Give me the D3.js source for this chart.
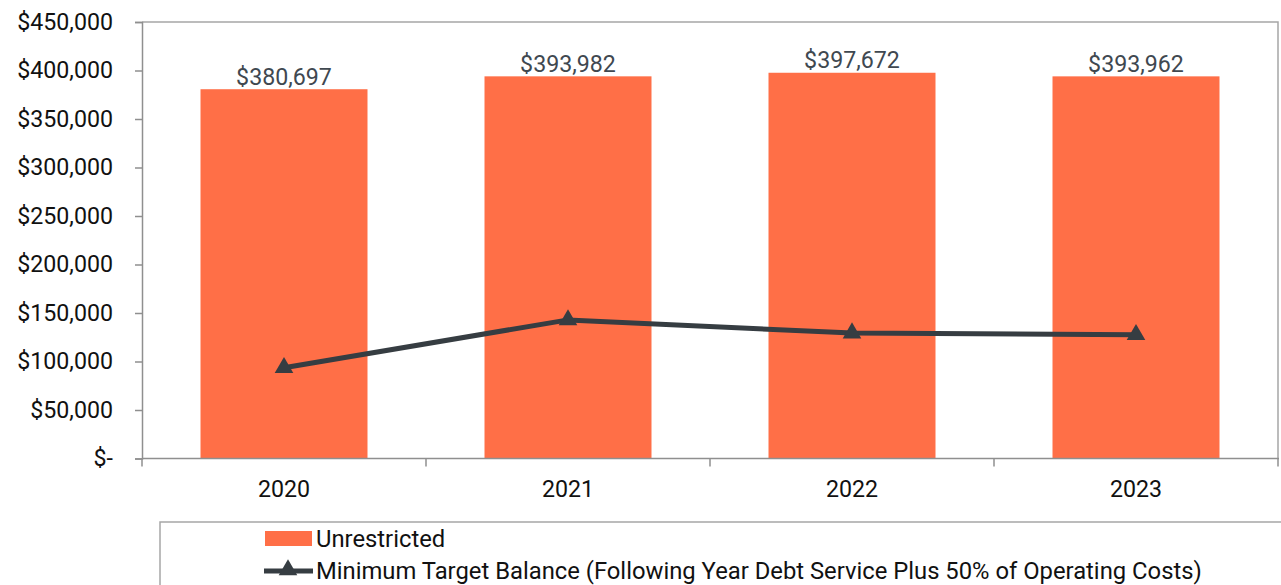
<!DOCTYPE html>
<html><head><meta charset="utf-8">
<script src="https://cdn.jsdelivr.net/npm/d3@7"></script>
<style>body{margin:0;background:#fff;}svg{display:block;font-family:Roboto,"Noto Sans",sans-serif;}</style>
</head><body><svg id="c" width="1281" height="585"></svg>
<script>
const categories = ["2020","2021","2022","2023"];
const unrestricted = [380697, 393982, 397672, 393962];
const minTarget = [93600, 142900, 129300, 127600];
const yTicks = [0,50000,100000,150000,200000,250000,300000,350000,400000,450000];
const seriesNames = ["Unrestricted","Minimum Target Balance (Following Year Debt Service Plus 50% of Operating Costs)"];

const svg = d3.select("#c");
const L=142, R=1278, T=22, B=458.5;
const x = d3.scaleBand().domain(categories).range([L,R]).paddingInner(0.412).paddingOuter(0.206);
const xc = d3.scalePoint().domain(categories).range([L,R]).padding(0.5);
const y = d3.scaleLinear().domain([0,450000]).range([B,T]);
const orange="#FF6F47", dark="#363D42", axisCol="#8f8f8f";
const fmt = v => v===0 ? "$-" : "$"+d3.format(",")(v);
const FS = 23.2;

svg.append("path").attr("d",`M${L},${T}H${R}V${B}`).attr("fill","none").attr("stroke","#a6a6a6").attr("stroke-width",1.5);

svg.selectAll("rect.bar").data(unrestricted).join("rect").attr("class","bar")
  .attr("x",(d,i)=>x(categories[i])).attr("width",x.bandwidth())
  .attr("y",d=>y(d)).attr("height",d=>B-y(d)).attr("fill",orange);

svg.selectAll("text.lbl").data(unrestricted).join("text").attr("class","lbl")
  .attr("x",(d,i)=>x(categories[i])+x.bandwidth()/2).attr("y",d=>y(d)-4.5)
  .attr("text-anchor","middle").attr("font-size",FS).attr("fill","#404850").text(d=>fmt(d));

const ya = svg.append("g").attr("transform",`translate(${L},0)`)
  .call(d3.axisLeft(y).tickValues(yTicks).tickFormat(fmt).tickSize(7).tickPadding(22));
ya.select(".domain").attr("stroke",axisCol).attr("stroke-width",1.5);
ya.selectAll(".tick line").attr("stroke",axisCol).attr("stroke-width",1.5);
ya.selectAll("text").attr("font-size",FS).attr("fill","#111").attr("font-family","Roboto");

const xa = svg.append("g").attr("transform",`translate(0,${B})`)
  .call(d3.axisBottom(x).tickSize(0).tickPadding(22));
xa.select(".domain").attr("d",`M${L},0H${R+1}`).attr("stroke",axisCol).attr("stroke-width",1.5);
xa.selectAll("text").attr("font-size",FS).attr("fill","#111").attr("font-family","Roboto");
const sep = categories.map((c,i)=>L+(R-L)*i/categories.length).concat([R]);
xa.selectAll("line.sep").data(sep).join("line").attr("class","sep")
  .attr("x1",d=>d).attr("x2",d=>d).attr("y1",0).attr("y2",8).attr("stroke",axisCol).attr("stroke-width",1.5);

const line = d3.line().x((d,i)=>xc(categories[i])).y(d=>y(d));
svg.append("path").datum(minTarget).attr("d",line).attr("fill","none").attr("stroke",dark).attr("stroke-width",5);
const tri = d3.symbol().type(d3.symbolTriangle).size(150);
svg.selectAll("path.mk").data(minTarget).join("path").attr("class","mk")
  .attr("d",tri).attr("transform",(d,i)=>`translate(${xc(categories[i])},${y(d)})`).attr("fill",dark);

svg.append("path").attr("d","M160,585V522H1281").attr("fill","none").attr("stroke","#a6a6a6").attr("stroke-width",1.5);
svg.append("rect").attr("x",265).attr("y",531).attr("width",47).attr("height",15).attr("fill",orange);
svg.append("text").attr("x",316).attr("y",547).attr("font-size",23.8).attr("fill","#111").text(seriesNames[0]);
svg.append("line").attr("x1",264).attr("x2",313).attr("y1",571).attr("y2",571).attr("stroke",dark).attr("stroke-width",5);
svg.append("path").attr("d",tri).attr("transform","translate(288,570)").attr("fill",dark);
svg.append("text").attr("x",316).attr("y",579).attr("font-size",23.8).attr("fill","#111").text(seriesNames[1]);
</script></body></html>
